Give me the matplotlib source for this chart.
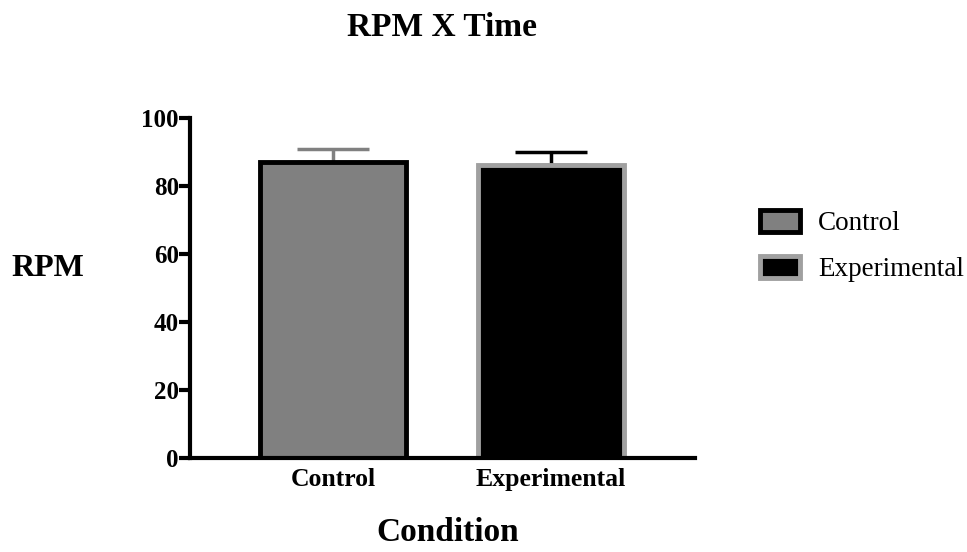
import numpy as np
import matplotlib.pyplot as plt
from matplotlib.patches import Patch

plt.rcParams['font.family'] = ['Liberation Serif', 'DejaVu Serif']

# 数据
conditions = ['Control', 'Experimental']
rpm_mean = [87.2, 86.3]
rpm_err = [3.7, 3.8]
y_ticks = [0, 20, 40, 60, 80, 100]

face_colors = ['#808080', '#000000']
edge_colors = ['#000000', '#a0a0a0']
err_colors = ['#808080', '#000000']


def show_results():
    fig = plt.figure(figsize=(9.67, 5.52), dpi=100)
    ax = fig.add_axes([0.1965, 0.1703, 0.522, 0.6159])

    x = np.arange(len(conditions))
    for i in range(len(conditions)):
        ax.bar(x[i], rpm_mean[i], width=0.67, color=face_colors[i],
               edgecolor=edge_colors[i], linewidth=3.5, zorder=2)
        ax.errorbar(x[i], rpm_mean[i], yerr=[[0], [rpm_err[i]]], fmt='none',
                    ecolor=err_colors[i], elinewidth=2.5, capsize=26,
                    capthick=2.5, zorder=1)

    ax.set_xlim(-0.656, 1.66)
    ax.set_ylim(0, 100)
    ax.set_yticks(y_ticks)
    ax.set_xticks(x)
    ax.set_xticklabels(conditions, fontsize=18.5, fontweight='bold')
    for lab in ax.get_yticklabels():
        lab.set_fontsize(18)
        lab.set_fontweight('bold')

    ax.spines['top'].set_visible(False)
    ax.spines['right'].set_visible(False)
    ax.spines['left'].set_linewidth(3)
    ax.spines['bottom'].set_linewidth(3)
    ax.tick_params(axis='y', direction='out', length=8, width=3, pad=0)
    ax.tick_params(axis='x', length=0, pad=7)

    fig.text(0.4576, 0.95, 'RPM X Time', ha='center', va='center',
             fontsize=24, fontweight='bold')
    fig.text(0.049, 0.514, 'RPM', ha='center', va='center',
             fontsize=23, fontweight='bold')
    fig.text(0.463, 0.036, 'Condition', ha='center', va='center',
             fontsize=24, fontweight='bold')

    handles = [Patch(facecolor=face_colors[i], edgecolor=edge_colors[i],
                     linewidth=3.5, label=conditions[i])
               for i in range(len(conditions))]
    fig.legend(handles=handles, loc='center left',
               bbox_to_anchor=(0.7605, 0.554), frameon=False, fontsize=19.5,
               handlelength=1.5, handleheight=0.85, labelspacing=0.72,
               handletextpad=0.66)

    fig.savefig('out.png', dpi=100)


def main():
    show_results()


if __name__ == '__main__':
    main()
